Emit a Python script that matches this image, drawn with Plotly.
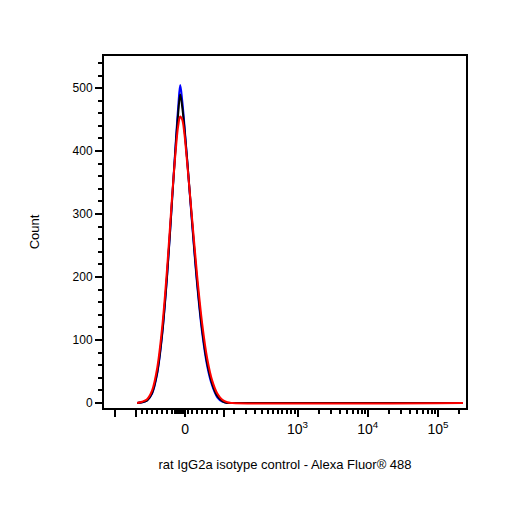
import numpy as np
import plotly.graph_objects as go

# histogram in display channels (biexponential axis drawn as linear display units)
chan = [135, 140, 145, 150, 155, 160, 165, 170, 174, 176, 178, 180, 182, 185, 190, 195, 200, 205, 210, 215, 220, 225, 230, 460]
red = [0, 2, 6, 20, 55, 120, 215, 330, 410, 440, 455, 450, 430, 380, 290, 200, 125, 70, 35, 15, 5, 1, 0, 0]
black = [0, 1, 4, 16, 48, 110, 205, 325, 420, 460, 490, 470, 440, 385, 285, 190, 115, 62, 30, 11, 3, 0, 0, 0]
blue = [0, 1, 4, 15, 46, 108, 203, 325, 425, 470, 505, 480, 445, 385, 282, 186, 110, 58, 27, 9, 2, 0, 0, 0]

major_pos = [113, 134, 183, 222, 295, 365, 435]
major_txt = ["", "", "0", "", "10<sup>3</sup>", "10<sup>4</sup>", "10<sup>5</sup>"]
minor_pos = [140, 145, 150, 155, 160, 165, 170, 173, 175, 177, 179, 181, 186, 190, 195, 200, 205, 210, 215, 232, 244, 253, 260, 266, 271, 276, 280, 284, 288, 292,
             316, 328, 337, 344, 350, 355, 359, 362, 386, 398, 407, 414, 420, 425, 429, 432, 456]

fig = go.Figure()
for ys, col in [(blue, "blue"), (black, "black"), (red, "red")]:
    fig.add_trace(go.Scatter(x=chan, y=ys, mode="lines", line=dict(color=col, width=2, shape="spline"),
                             showlegend=False))

fig.update_layout(
    width=506, height=506, plot_bgcolor="white", paper_bgcolor="white",
    margin=dict(l=96, r=48, t=48, b=106),
    font=dict(family="Liberation Sans, Arial", size=12, color="black"),
    xaxis=dict(range=[102, 463], showgrid=False, zeroline=False, showline=True, linecolor="black", linewidth=2,
               mirror=True, ticks="outside", ticklen=7, tickwidth=2, tickcolor="black",
               tickmode="array", tickvals=major_pos, ticktext=major_txt, tickfont=dict(size=14),
               minor=dict(tickmode="array", tickvals=minor_pos, ticks="outside", ticklen=4, tickcolor="black"),
               title=dict(text="rat IgG2a isotype control - Alexa Fluor® 488", standoff=24, font=dict(size=13))),
    yaxis=dict(range=[-8, 551], showgrid=False, zeroline=False, showline=True, linecolor="black", linewidth=2,
               mirror=True, ticks="outside", ticklen=7, tickwidth=2, tickcolor="black",
               tickvals=[0, 100, 200, 300, 400, 500], tickfont=dict(size=12),
               minor=dict(dtick=20, ticks="outside", ticklen=4, tickcolor="black"),
               title=dict(text="Count", standoff=30, font=dict(size=13))),
)
fig.write_html("out.html")
